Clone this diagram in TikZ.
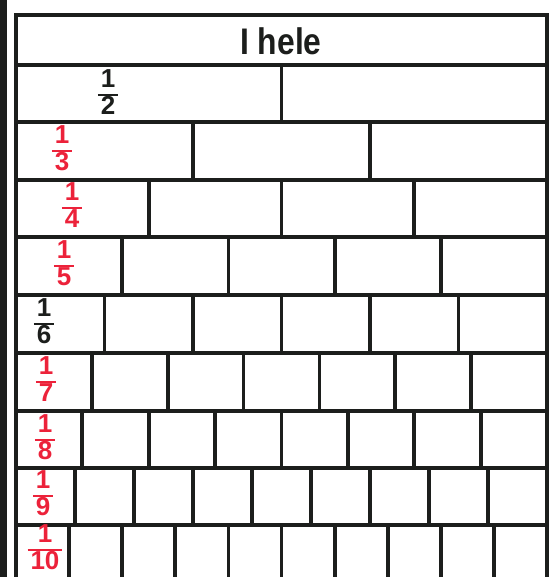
\documentclass[tikz,border=0pt]{standalone}
\usepackage{fontspec}
\setmainfont{Liberation Sans}
\definecolor{ink}{RGB}{28,30,28}
\definecolor{pen}{RGB}{236,34,58}
\newcommand\unitfrac[1]{{\setlength\arrayrulewidth{2.6pt}\renewcommand\arraystretch{0.78}\begin{tabular}{@{\hspace{3pt}}c@{\hspace{3pt}}}1\\\hline #1\end{tabular}}}
\begin{document}
\begin{tikzpicture}[x=1pt,y=-1pt,
  cell/.style={draw=ink, line width=3.8pt, inner sep=0pt, outer sep=0pt, anchor=north west, rectangle},
  fraclabel/.style={inner sep=0pt, font=\fontsize{26}{26}\selectfont\bfseries},
  title/.style={inner sep=0pt, font=\fontsize{37}{40}\selectfont\bfseries, text=ink, xscale=0.86}]
\useasboundingbox (0,0) rectangle (555,577);
\clip (0,0) rectangle (555,577);
\fill[white] (0,0) rectangle (555,577);
\fill[ink] (0,0) rectangle (6.5,577);
\foreach \n/\t/\b in {1/15/65, 2/65/122, 3/122/180, 4/180/237, 5/237/295, 6/295/353, 7/353/411, 8/411/468, 9/468/525, 10/525/584} {
  \pgfmathsetmacro\w{531/\n}
  \pgfmathsetmacro\h{\b-\t}
  \foreach \k in {1,...,\n} {
    \pgfmathsetmacro\xx{16+(\k-1)*\w}
    \node[cell, minimum width=\w pt, minimum height=\h pt] (c\n-\k) at (\xx,\t) {};
  }
}
\node[title] (t1) at (281,41) {I hele};
\node[fraclabel, text=ink] (f2) at (108,95) {\unitfrac{2}};
\node[fraclabel, text=pen] (f3) at (62,151) {\unitfrac{3}};
\node[fraclabel, text=pen] (f4) at (72,208) {\unitfrac{4}};
\node[fraclabel, text=pen] (f5) at (64,266) {\unitfrac{5}};
\node[fraclabel, text=ink] (f6) at (44,324) {\unitfrac{6}};
\node[fraclabel, text=pen] (f7) at (46,382) {\unitfrac{7}};
\node[fraclabel, text=pen] (f8) at (45,440) {\unitfrac{8}};
\node[fraclabel, text=pen] (f9) at (43,496) {\unitfrac{9}};
\node[fraclabel, text=pen] (f10) at (45,550) {\unitfrac{10}};
\end{tikzpicture}
\end{document}
